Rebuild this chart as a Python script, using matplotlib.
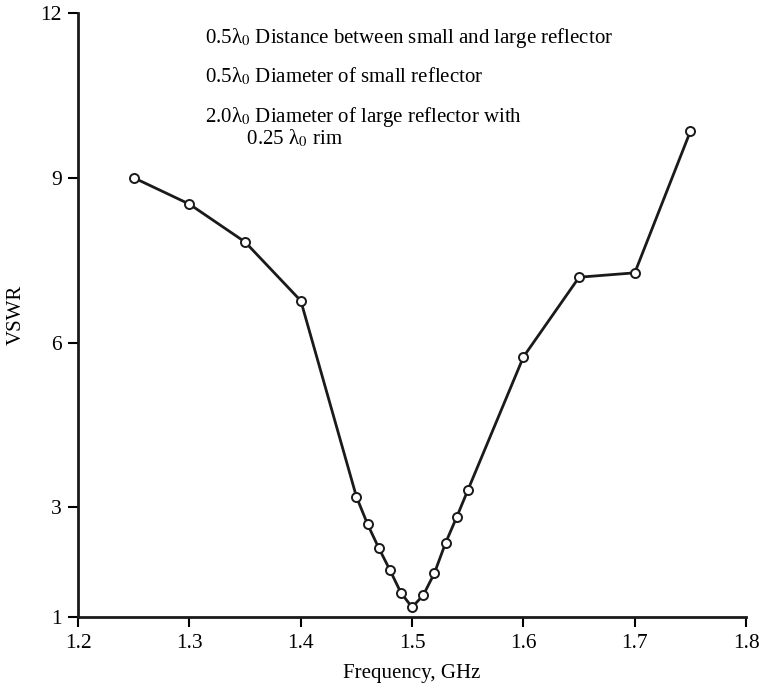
import numpy as np
import matplotlib.pyplot as plt

# VSWR vs frequency
freq_ghz = [1.25, 1.30, 1.35, 1.40, 1.45, 1.46, 1.47, 1.48, 1.49, 1.50,
            1.51, 1.52, 1.53, 1.54, 1.55, 1.60, 1.65, 1.70, 1.75]
vswr = [9.0, 8.52, 7.83, 6.76, 3.19, 2.69, 2.26, 1.86, 1.44, 1.18,
        1.40, 1.80, 2.35, 2.82, 3.31, 5.74, 7.19, 7.27, 9.85]

x_ticks = [1.2, 1.3, 1.4, 1.5, 1.6, 1.7, 1.8]
y_ticks = [1, 3, 6, 9, 12]

notes = ['0.5λ$_0$ Distance between small and large reflector',
         '0.5λ$_0$ Diameter of small reflector',
         '2.0λ$_0$ Diameter of large reflector with\n'
         '        0.25 λ$_0$ rim']

plt.rcParams['font.family'] = ['Liberation Serif', 'DejaVu Serif']
plt.rcParams['mathtext.fontset'] = 'stix'

fig = plt.figure(figsize=(7.59, 6.88), dpi=100)
ax = fig.add_axes([0.103, 0.103, 0.880, 0.878])

ax.plot(freq_ghz, vswr, color='#1a1a1a', lw=2.0, marker='o', ms=6.5,
        mfc='white', mec='#1a1a1a', mew=1.4, zorder=3)

ax.set_xlim(1.2, 1.8)
ax.set_ylim(1, 12)
ax.set_xticks(x_ticks)
ax.set_xticklabels([f'{t:.1f}' for t in x_ticks])
ax.set_yticks(y_ticks)
ax.tick_params(direction='out', length=7, width=1.5, labelsize=15.5, pad=5)

for s in ['top', 'right']:
    ax.spines[s].set_visible(False)
for s in ['left', 'bottom']:
    ax.spines[s].set_linewidth(2.0)
    ax.spines[s].set_color('#1a1a1a')

ax.set_xlabel('Frequency, GHz', fontsize=15, labelpad=8)
ax.set_ylabel('VSWR', fontsize=15, labelpad=10)

ax.text(1.314, 11.455, notes[0], fontsize=15, va='baseline', ha='left')
ax.text(1.314, 10.745, notes[1], fontsize=15, va='baseline', ha='left')
ax.text(1.314, 10.33, notes[2], fontsize=15, va='top', ha='left',
        linespacing=0.95)

fig.savefig('out.png', dpi=100)
